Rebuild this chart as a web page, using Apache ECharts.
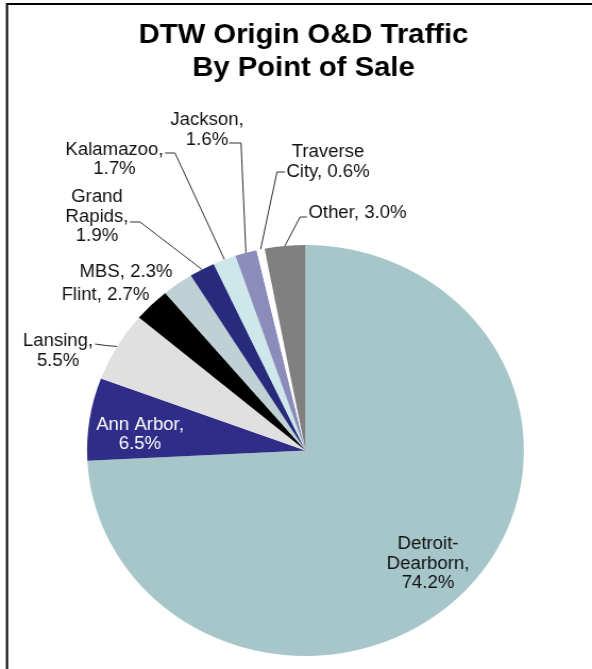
<!DOCTYPE html>
<html>
<head>
<meta charset="utf-8">
<script src="https://cdn.jsdelivr.net/npm/echarts@6/dist/echarts.min.js"></script>
<style>
  html, body { margin: 0; padding: 0; background: #fff; overflow: hidden; }
  #chart { width: 557px; height: 669px; transform: scaleX(1.0628); transform-origin: 0 0; }
</style>
</head>
<body>
<div id="chart"></div>
<script>
// ---- data ----
const categories = ['Detroit-Dearborn', 'Ann Arbor', 'Lansing', 'Flint', 'MBS', 'Grand Rapids', 'Kalamazoo', 'Jackson', 'Traverse City', 'Other'];
const shares = [74.2, 6.5, 5.5, 2.7, 2.3, 1.9, 1.7, 1.6, 0.6, 3.0];
// label text templates ({v} = value)
const labelTemplates = ['Detroit-\nDearborn,\n{v}', 'Ann Arbor,\n{v}', 'Lansing,\n{v}', 'Flint, {v}', 'MBS, {v}', 'Grand\nRapids,\n{v}', 'Kalamazoo,\n{v}', 'Jackson,\n{v}', 'Traverse\nCity, {v}', 'Other, {v}'];
const titleText = 'DTW Origin O&D Traffic\nBy Point of Sale';

// ---- styling / layout ----
const SX = 592 / 557;
const colors = ['#a6c6c9', '#2f2d87', '#e0e0e0', '#000000', '#bfd1d4', '#282a7c', '#cde7eb', '#8c8cba', '#ffffff', '#808080'];
const labelColors = ['#111', '#fff', '#111', '#111', '#111', '#111', '#111', '#111', '#111', '#111'];
const showLine = [false, false, true, false, false, true, true, true, true, true];
// label centres (picture px)
const labelPos = [[428, 564], [140, 434.5], [58, 351], [105.5, 295], [126, 272], [97, 216.7], [114.5, 159.5], [207, 130], [328, 162], [357.5, 213]];
// leader line bends after the slice edge (picture px)
const leaderPts = [null, null, [[106, 345.5], [95, 344]], null, null, [[140, 222], [130, 222]], [[175, 153], [165, 153]], [[241, 143], [229, 143]], [[277, 172], [285, 172]], [[300, 217], [307, 217]]];

const FONT = '"Liberation Sans", Arial, sans-serif';

const chart = echarts.init(document.getElementById('chart'), null, { renderer: 'canvas' });
chart.setOption({
  animation: false,
  backgroundColor: '#fff',
  graphic: [
    { type: 'rect', silent: true, shape: { x: 7 / SX, y: 4, width: 800, height: 800 },
      style: { fill: 'none', stroke: '#000', lineWidth: 2 } },
    { type: 'text', silent: true, x: 303.5 / SX, y: 52,
      style: { text: titleText, font: 'bold 27.5px ' + FONT, fill: '#000', align: 'center', verticalAlign: 'middle', lineHeight: 33 } }
  ],
  series: [{
    type: 'pie',
    center: [305.5 / SX, 450.5],
    radius: 205.5,
    startAngle: 90,
    clockwise: true,
    avoidLabelOverlap: false,
    label: {
      show: true,
      position: 'outside',
      fontFamily: FONT,
      fontSize: 17.5,
      lineHeight: 19.5,
      align: 'center',
      formatter: function (p) { return labelTemplates[p.dataIndex].replace('{v}', p.value.toFixed(1) + '%'); }
    },
    labelLine: { show: true, length: 10, length2: 10, lineStyle: { color: '#303030', width: 1 } },
    labelLayout: function (p) {
      const i = p.dataIndex;
      const pos = labelPos[i];
      const res = { x: pos[0] / SX, y: pos[1], align: 'center', verticalAlign: 'middle' };
      const pts = leaderPts[i];
      if (pts && p.labelLinePoints) {
        res.labelLinePoints = [p.labelLinePoints[0]].concat(pts.map(function (q) { return [q[0] / SX, q[1]]; }));
      }
      return res;
    },
    data: categories.map(function (c, i) {
      return {
        name: c,
        value: shares[i],
        itemStyle: { color: colors[i] },
        label: { color: labelColors[i] },
        labelLine: { show: showLine[i] }
      };
    })
  }]
});
</script>
</body>
</html>
